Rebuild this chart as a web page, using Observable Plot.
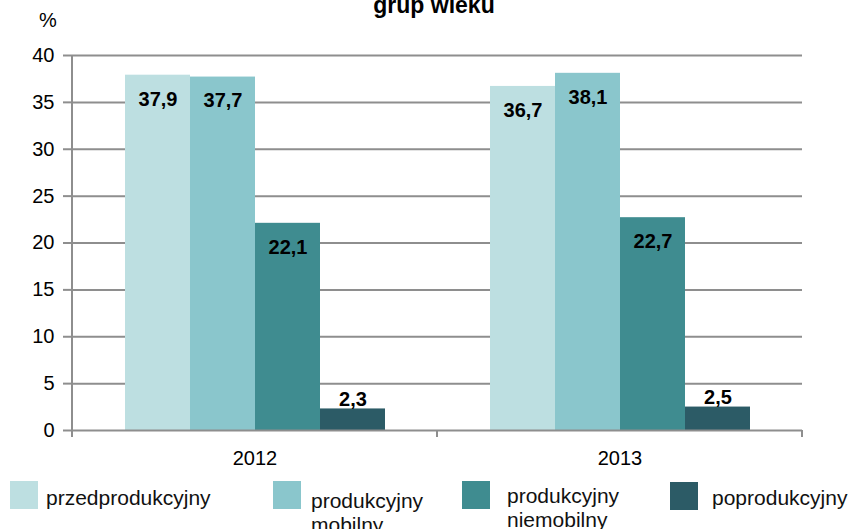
<!DOCTYPE html>
<html><head><meta charset="utf-8">
<script src="https://cdn.jsdelivr.net/npm/d3@7"></script>
<script src="https://cdn.jsdelivr.net/npm/@observablehq/plot@0.6"></script>
<style>
html,body{margin:0;padding:0;background:#fff;overflow:hidden;}
body{width:851px;height:529px;position:relative;font-family:"Liberation Sans",Arial,sans-serif;}
#chart{position:absolute;left:0;top:0;}
#title{position:absolute;left:0;width:868px;top:-6px;text-align:center;font-weight:bold;font-size:23px;line-height:23px;color:#000;}
#unit{position:absolute;left:39px;top:9px;font-size:20px;line-height:22px;color:#000;}
.sw{position:absolute;width:28px;height:28px;}
.lt{position:absolute;font-size:21px;line-height:24px;color:#111;white-space:nowrap;}
</style></head><body>
<div id="chart"></div>
<div id="title">grup wieku</div>
<div id="unit">%</div>
<div id="legend"></div>
<script>
// ---- data ----
const years = ["2012", "2013"];
const groups = ["przedprodukcyjny", "produkcyjny mobilny", "produkcyjny niemobilny", "poprodukcyjny"];
const legendLines = [["przedprodukcyjny"], ["produkcyjny", "mobilny"], ["produkcyjny", "niemobilny"], ["poprodukcyjny"]];
const values2012 = [37.9, 37.7, 22.1, 2.3];
const values2013 = [36.7, 38.1, 22.7, 2.5];
const yTicks = [0, 5, 10, 15, 20, 25, 30, 35, 40];
const colors = ["#BDDFE1", "#8AC6CC", "#3F8C90", "#2C5B66"];

// ---- layout / style ----
const gray = "#8E8E8E";
const legendLayout = [
  {sw: [10, 481], tx: [46, 486]},
  {sw: [273, 481], tx: [311, 489]},
  {sw: [462, 481], tx: [507, 484]},
  {sw: [670, 482], tx: [712, 486]}
];

const data = [];
years.forEach((yr, i) => {
  const vals = i === 0 ? values2012 : values2013;
  groups.forEach((g, j) => data.push({year: yr, group: g, value: vals[j]}));
});
const fmt = v => v.toFixed(1).replace(".", ",");

function edgeRender(index, scales, values, dimensions, context, next) {
  const base = next(index, scales, values, dimensions, context);
  const g = d3.create("svg:g");
  if (base) g.append(() => base);
  if (!index.length) return g.node();
  const yr = years[index[0]];
  const [r0, r1] = scales.x.range();
  const y0 = scales.y(0), yTop = scales.y(yTicks[yTicks.length - 1]);
  const line = (x1, y1, x2, y2) => g.append("line")
    .attr("x1", x1).attr("y1", y1).attr("x2", x2).attr("y2", y2)
    .attr("stroke", gray).attr("stroke-width", 2);
  line(r0, y0, r0, y0 + 7);
  if (yr === years[years.length - 1]) line(r1, y0, r1, y0 + 7);
  if (yr === years[0]) line(r0, yTop, r0, y0 + 7);
  return g.node();
}

const plot = Plot.plot({
  width: 851,
  height: 470,
  marginTop: 55,
  marginBottom: 40,
  marginLeft: 71,
  marginRight: 49,
  style: {fontSize: "20px", fontFamily: "'Liberation Sans', Arial, sans-serif", background: "transparent", color: "#000"},
  fx: {domain: years, padding: 0},
  x: {domain: groups, paddingInner: 0, paddingOuter: 0.77, axis: null},
  y: {domain: [0, 40]},
  color: {domain: groups, range: colors},
  marks: [
    Plot.gridY(yTicks.filter(t => t > 0), {stroke: gray, strokeOpacity: 1, strokeWidth: 2}),
    Plot.axisY(yTicks, {tickSize: 9, tickPadding: 9, color: "#000", stroke: gray, strokeWidth: 2, label: null, fontSize: 20}),
    Plot.axisFx({anchor: "bottom", tickSize: 0, tickPadding: 20, label: null, color: "#000", fontSize: 20}),
    Plot.barY(data, {fx: "year", x: "group", y: "value", fill: "group"}),
    Plot.ruleY(years, {fx: d => d, y: () => 0, stroke: gray, strokeWidth: 2, render: edgeRender}),
    Plot.text(data.filter(d => d.value > 5), {fx: "year", x: "group", y: "value", text: d => fmt(d.value), dy: 24, fontWeight: "bold", fontSize: 20, fill: "#000"}),
    Plot.text(data.filter(d => d.value <= 5), {fx: "year", x: "group", y: "value", text: d => fmt(d.value), dy: -9, fontWeight: "bold", fontSize: 20, fill: "#000"})
  ]
});
document.getElementById("chart").appendChild(plot);

// ---- legend ----
const legend = document.getElementById("legend");
groups.forEach((g, i) => {
  const L = legendLayout[i];
  const sw = document.createElement("div");
  sw.className = "sw";
  sw.style.left = L.sw[0] + "px";
  sw.style.top = L.sw[1] + "px";
  sw.style.background = colors[i];
  legend.appendChild(sw);
  const t = document.createElement("div");
  t.className = "lt";
  t.style.left = L.tx[0] + "px";
  t.style.top = L.tx[1] + "px";
  t.innerHTML = legendLines[i].join("<br>");
  legend.appendChild(t);
});
</script>
</body></html>
